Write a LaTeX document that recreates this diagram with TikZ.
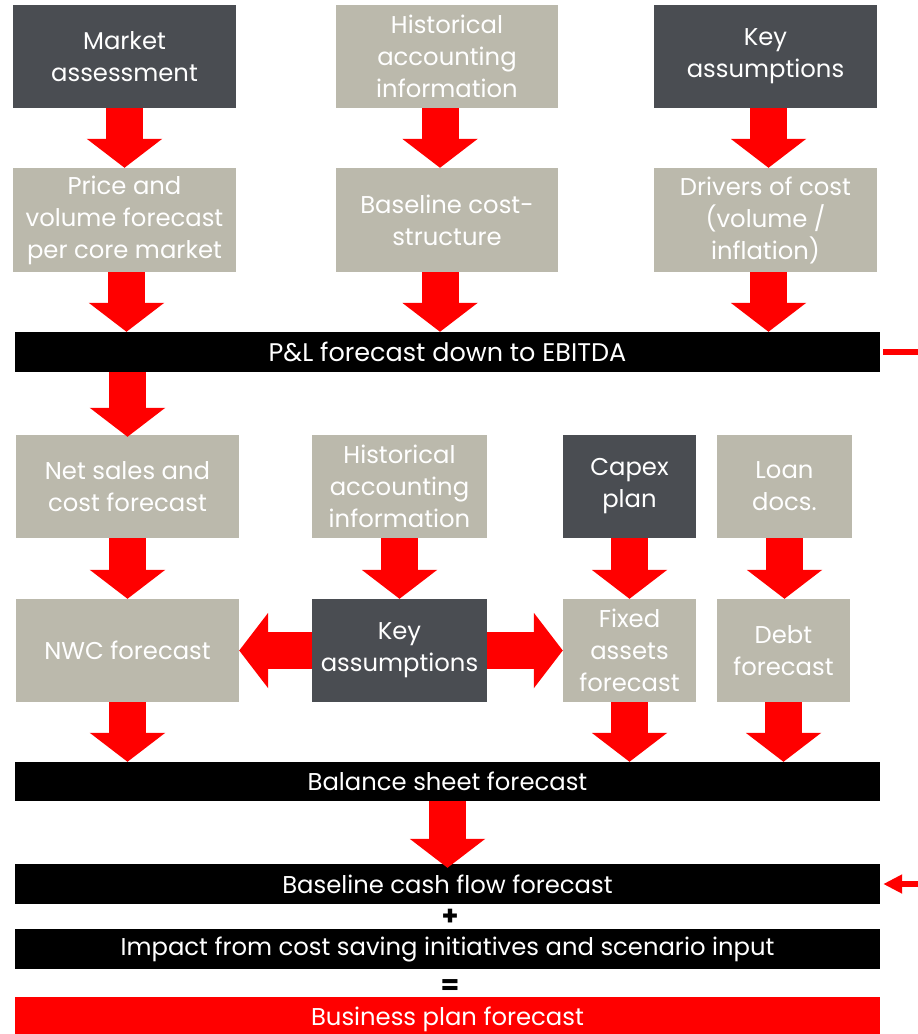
\documentclass[tikz,border=0pt]{standalone}
\usepackage{fontspec}
\setmainfont{Poppins}
\usetikzlibrary{arrows.meta}
\definecolor{darkbox}{HTML}{4A4D52}
\definecolor{beigebox}{HTML}{BBB9AC}
\definecolor{redarrow}{HTML}{FF0000}
\tikzset{
  box/.style={rectangle, inner sep=0pt, align=center, text=white,
    font=\fontsize{24.3}{32}\selectfont},
  darkb/.style={box, fill=darkbox},
  beigeb/.style={box, fill=beigebox},
  bar/.style={rectangle, inner sep=0pt, align=center, text=white, fill=black,
    minimum width=865pt, font=\fontsize{24.3}{26}\selectfont},
  bigarrow/.style={draw=redarrow, line width=37pt, line cap=butt,
    -{Triangle[width=74pt,length=29pt,fill=redarrow]}},
  sym/.style={font=\fontsize{27}{27}\selectfont\bfseries, inner sep=0pt}
}
\begin{document}
\begin{tikzpicture}[x=1pt,y=-1pt]
\clip (0,0) rectangle (918,1034);
\fill[white] (0,0) rectangle (918,1034);
% row 1
\node[darkb, minimum width=223pt, minimum height=103pt] (ma) at (124.5,56.5) {Market\\assessment};
\node[beigeb, minimum width=222pt, minimum height=103pt] (ha1) at (447,56.5) {Historical\\accounting\\information};
\node[darkb, minimum width=223pt, minimum height=103pt] (ka1) at (765.5,56.5) {Key\\assumptions};
% row 2
\node[beigeb, minimum width=223pt, minimum height=104pt] (pv) at (124.5,220) {Price and\\volume forecast\\per core market};
\node[beigeb, minimum width=222pt, minimum height=104pt] (bc) at (447,220) {Baseline cost-\\structure};
\node[beigeb, minimum width=223pt, minimum height=104pt] (dc) at (765.5,220) {Drivers of cost\\(volume /\\inflation)};
% P&L bar
\node[bar, minimum height=40pt, font=\fontsize{25.5}{26}\selectfont] (pl) at (447.5,352) {P\&L forecast down to EBITDA};
% row 3
\node[beigeb, minimum width=223pt, minimum height=103pt] (ns) at (127.5,486.5) {Net sales and\\cost forecast};
\node[beigeb, minimum width=175pt, minimum height=103pt] (ha2) at (399.5,486.5) {Historical\\accounting\\information};
\node[darkb, minimum width=133pt, minimum height=103pt] (cp) at (629.5,486.5) {Capex\\plan};
\node[beigeb, minimum width=135pt, minimum height=103pt] (ld) at (784.5,486.5) {Loan\\docs.};
% row 4
\node[beigeb, minimum width=223pt, minimum height=103pt] (nwc) at (127.5,650.5) {NWC forecast};
\node[darkb, minimum width=175pt, minimum height=103pt] (ka2) at (399.5,650.5) {Key\\assumptions};
\node[beigeb, minimum width=133pt, minimum height=103pt] (fa) at (629.5,650.5) {Fixed\\assets\\forecast};
\node[beigeb, minimum width=133pt, minimum height=103pt] (df) at (783.5,650.5) {Debt\\forecast};
% bars
\node[bar, minimum height=39pt] (bs) at (447.5,781.5) {Balance sheet forecast};
\node[bar, minimum height=40pt] (cf) at (447.5,884) {Baseline cash flow forecast};
\node[sym] (plus) at (450,917) {+};
\node[bar, minimum height=40pt] (imp) at (447.5,949) {Impact from cost saving initiatives and scenario input};
\node[sym] (eq) at (450,987) {=};
\node[bar, minimum height=44pt, fill=redarrow] (bp) at (447.5,1019) {Business plan forecast};
% arrows row 1 -> row 2
\draw[bigarrow] (ma.south) -- (pv.north);
\draw[bigarrow] ([xshift=-7pt]ha1.south) -- ([xshift=-7pt]bc.north);
\draw[bigarrow] ([xshift=3pt]ka1.south) -- ([xshift=3pt]dc.north);
% row 2 -> P&L
\draw[bigarrow] ([xshift=2pt]pv.south) -- ([xshift=2pt]pv.south |- pl.north);
\draw[bigarrow] ([xshift=-7pt]bc.south) -- ([xshift=-7pt]bc.south |- pl.north);
\draw[bigarrow] ([xshift=3pt]dc.south) -- ([xshift=3pt]dc.south |- pl.north);
% P&L -> net sales
\draw[bigarrow] (pl.south -| ns.north) -- ([yshift=-2pt]ns.north);
% row 3 -> row 4
\draw[bigarrow] (ns.south) -- (nwc.north);
\draw[bigarrow] (ha2.south) -- (ka2.north);
\draw[bigarrow] (cp.south) -- (fa.north);
\draw[bigarrow] (ld.south) -- (ld.south |- df.north);
% key assumptions sideways
\draw[bigarrow] (ka2.west) -- (nwc.east);
\draw[bigarrow] (ka2.east) -- (fa.west);
% row 4 -> balance sheet
\draw[bigarrow] (nwc.south) -- (nwc.south |- bs.north);
\draw[bigarrow] (fa.south) -- (fa.south |- bs.north);
\draw[bigarrow] (df.south) -- (df.south |- bs.north);
% balance sheet -> cash flow
\draw[bigarrow] (bs.south) -- ([yshift=-4pt]cf.north);
% side markers
\coordinate (plr) at (918,352);
\coordinate (cfr) at (918,884);
\draw[draw=redarrow, line width=6pt] ([xshift=3pt]pl.east) -- (plr);
\draw[draw=redarrow, line width=6pt, -{Triangle[width=18pt,length=19pt,fill=redarrow]}] (cfr) -- ([xshift=3pt]cf.east);
\end{tikzpicture}
\end{document}
